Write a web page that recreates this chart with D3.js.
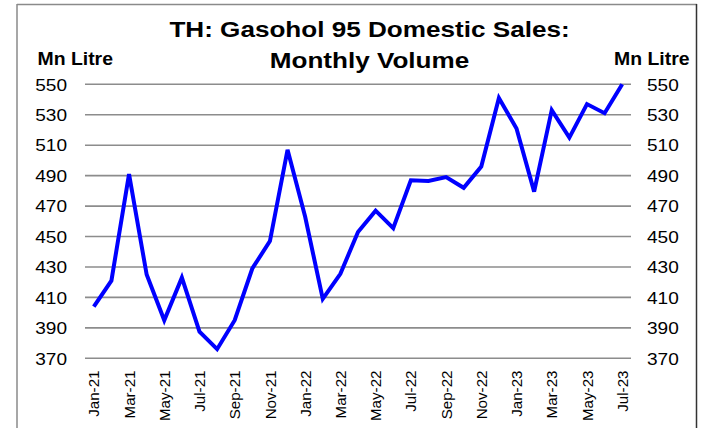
<!DOCTYPE html>
<html>
<head>
<meta charset="utf-8">
<script src="https://cdn.jsdelivr.net/npm/d3@7"></script>
<style>
  html, body { margin: 0; padding: 0; background: #fff; }
  svg { display: block; font-family: "Liberation Sans", Arial, sans-serif; }
</style>
</head>
<body>
<svg id="chart" width="706" height="428"></svg>
<script>
// Monthly volumes, Jan-21 .. Jul-23 (Mn Litre)
const months = [
  "Jan-21","Feb-21","Mar-21","Apr-21","May-21","Jun-21","Jul-21","Aug-21","Sep-21","Oct-21","Nov-21","Dec-21",
  "Jan-22","Feb-22","Mar-22","Apr-22","May-22","Jun-22","Jul-22","Aug-22","Sep-22","Oct-22","Nov-22","Dec-22",
  "Jan-23","Feb-23","Mar-23","Apr-23","May-23","Jun-23","Jul-23"
];
const volumes = [
  404, 421, 491, 425, 395, 423, 387.5, 376, 395, 429, 447, 507,
  463, 409, 425.5, 453, 467, 455.5, 487, 486.5, 489, 482, 496, 541,
  521, 479.5, 533, 515, 537, 531, 550
];
const yTicks = [370, 390, 410, 430, 450, 470, 490, 510, 530, 550];
const xLabels = months.filter((m, i) => i % 2 === 0);

const titleLines = ["TH: Gasohol 95 Domestic Sales:", "Monthly Volume"];
const unitLabel = "Mn Litre";

const FONT = "'Liberation Sans', Arial, sans-serif";
const svg = d3.select("#chart");

// outer frame
svg.append("line").attr("x1", 17).attr("x2", 697).attr("y1", 4.5).attr("y2", 4.5)
  .attr("stroke", "#8a8a8a").attr("stroke-width", 1.5);
svg.append("line").attr("x1", 17).attr("x2", 17).attr("y1", 4).attr("y2", 428)
  .attr("stroke", "#8a8a8a").attr("stroke-width", 1.5);
svg.append("line").attr("x1", 696.5).attr("x2", 696.5).attr("y1", 4).attr("y2", 428)
  .attr("stroke", "#333").attr("stroke-width", 1.5);

const x = d3.scalePoint().domain(months).range([85, 631]).padding(0.5);
const y = d3.scaleLinear().domain([370, 550]).range([358.3, 84.3]);

// horizontal gridlines
svg.append("g").selectAll("line").data(yTicks).join("line")
  .attr("x1", 85).attr("x2", 631)
  .attr("y1", d => y(d)).attr("y2", d => y(d))
  .attr("stroke", "#8c8c8c").attr("stroke-width", 1.6);

// left and right value axes (labels only), slightly wide lettering
const leftAxis = d3.axisLeft(y).tickValues(yTicks).tickSize(0).tickPadding(0).tickFormat(d3.format("d"));
const rightAxis = d3.axisRight(y).tickValues(yTicks).tickSize(0).tickPadding(0).tickFormat(d3.format("d"));

const gl = svg.append("g").attr("transform", "translate(67,0)").call(leftAxis);
const gr = svg.append("g").attr("transform", "translate(647,0)").call(rightAxis);
[gl, gr].forEach(g => {
  g.select(".domain").remove();
  g.selectAll("text")
    .attr("font-size", "16px").attr("fill", "#000").attr("font-family", FONT)
    .attr("x", 0).attr("dy", "0.36em")
    .attr("transform", "scale(1.19,1)");
});

// category labels, rotated
const xAxis = d3.axisBottom(x).tickValues(xLabels).tickSize(0).tickPadding(0);
const gx = svg.append("g").attr("transform", "translate(0,370.5)").call(xAxis);
gx.select(".domain").remove();
gx.selectAll("text")
  .attr("font-size", "14.3px").attr("fill", "#000").attr("font-family", FONT)
  .attr("transform", "rotate(-90) scale(1.06,1)")
  .attr("text-anchor", "end")
  .attr("x", 0).attr("y", 0).attr("dy", "0.36em");

// data line
const line = d3.line().x((d, i) => x(months[i])).y(d => y(d));
svg.append("path").datum(volumes)
  .attr("d", line)
  .attr("fill", "none")
  .attr("stroke", "#0000ff")
  .attr("stroke-width", 4)
  .attr("stroke-linejoin", "miter");

// title
svg.append("g").selectAll("text").data(titleLines).join("text")
  .attr("transform", (d, i) => `translate(369.5,${36.8 + i * 31.5}) scale(1.16,1)`)
  .attr("text-anchor", "middle")
  .attr("font-family", FONT)
  .attr("font-size", "22.5px").attr("font-weight", "bold").attr("fill", "#000")
  .text(d => d);

// unit labels
svg.append("text").attr("transform", "translate(37.5,65) scale(1.11,1)")
  .attr("font-family", FONT)
  .attr("font-size", "17.5px").attr("font-weight", "bold").text(unitLabel);
svg.append("text").attr("transform", "translate(689.5,65) scale(1.11,1)")
  .attr("text-anchor", "end")
  .attr("font-family", FONT)
  .attr("font-size", "17.5px").attr("font-weight", "bold").text(unitLabel);
</script>
</body>
</html>
